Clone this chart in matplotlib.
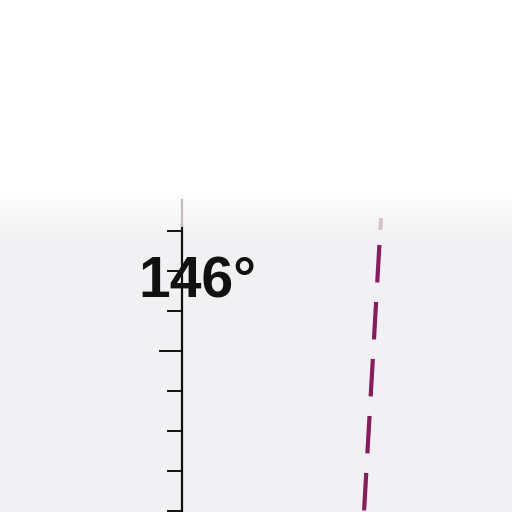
import matplotlib.pyplot as plt
import numpy as np

# Scale data (degrees)
tick_degrees = [147, 146, 145, 144, 143, 142, 141, 140]
tick_lengths = [14, 14, 14, 22, 14, 14, 14, 14]      # px to the left of the scale
label_degree = 146
label_text = '146°'

# Dashed pointer line, (x px, degree) at its two ends
pointer_x = [379.4, 364.0]
pointer_deg = [146.65, 139.975]
pointer_faint_x = [381.0, 380.3]
pointer_faint_deg = [147.325, 147.025]

# Pixel <-> degree mapping: 40 px per degree, 146 deg at y = 271 px
px_per_deg = 40.0
deg_top = 146 + 271 / px_per_deg
deg_bottom = 146 - 241 / px_per_deg
scale_x = 182

fig = plt.figure(figsize=(5.12, 5.12), dpi=100)
ax = fig.add_axes([0, 0, 1, 1])
ax.set_xlim(0, 512)
ax.set_ylim(deg_bottom, deg_top)
ax.axis('off')

# Background: white at the top fading to light grey
rows = np.linspace(0, 1, 512)
shade = np.clip((rows - 0.37) / 0.1, 0, 1)
bg = np.ones((512, 1, 3))
grey = np.array([0.949, 0.949, 0.957])
bg[:, 0, :] = (1 - shade[:, None]) * 1.0 + shade[:, None] * grey
ax.imshow(bg, extent=[0, 512, deg_bottom, deg_top], aspect='auto', zorder=0)

# Vertical scale line (faint at its top end)
ax.plot([scale_x, scale_x], [146 + 45 / px_per_deg, deg_bottom], color='#111111', lw=1.6, zorder=2)
ax.plot([scale_x, scale_x], [146 + 71 / px_per_deg, 146 + 45 / px_per_deg], color='#c9b8c0',
        lw=1.6, zorder=2)

# Tick marks
for deg, length in zip(tick_degrees, tick_lengths):
    ax.plot([scale_x - length, scale_x], [deg, deg], color='#111111', lw=1.4, zorder=2)

# Degree label
ax.text(197, label_degree - 26 / px_per_deg, label_text, ha='center', va='baseline',
        fontsize=41, fontweight='bold', color='#111111', family='Liberation Sans', zorder=3)

# Dashed pointer line
ax.plot(pointer_faint_x, pointer_faint_deg, color='#d8c4cf', lw=3.0, solid_capstyle='butt', zorder=2)
ax.plot(pointer_x, pointer_deg, color='#8b1a5c', lw=3.0, dashes=(9.0, 4.7),
        solid_capstyle='butt', dash_capstyle='butt', zorder=2)

fig.savefig('out.png', dpi=100)
